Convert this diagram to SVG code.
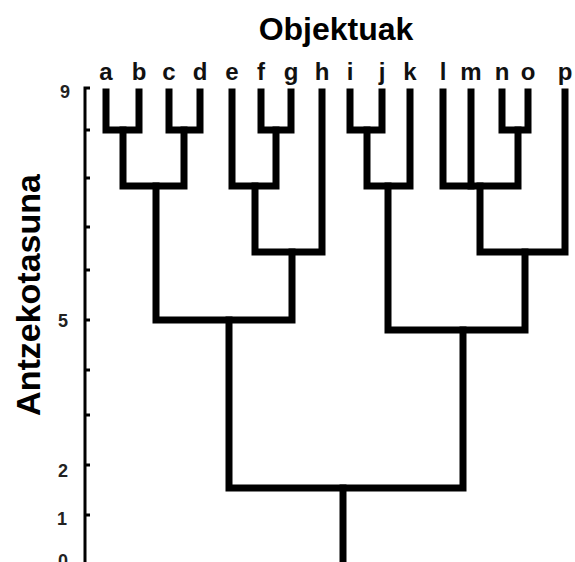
<svg xmlns="http://www.w3.org/2000/svg" width="575" height="562" viewBox="0 0 575 562">
  <style>
    .title { font-family: "Liberation Sans", Arial, sans-serif; font-weight: bold; fill: #000; }
    .leaf { font-family: "Liberation Sans", Arial, sans-serif; font-weight: bold; font-size: 24px; fill: #111; text-anchor: middle; }
    .tick-label { font-family: "Liberation Sans", Arial, sans-serif; font-weight: bold; font-size: 18px; fill: #222; text-anchor: end; }
    .branch { fill: none; stroke: #000; stroke-width: 7; stroke-linejoin: miter; stroke-linecap: square; }
    .axis { fill: none; stroke: #000; stroke-width: 3; }
    .tick { stroke: #000; stroke-width: 3; }
  </style>
  <rect width="575" height="562" fill="#fff"/>

  <!-- titles -->
  <text class="title" x="336" y="40" font-size="32" text-anchor="middle">Objektuak</text>
  <text class="title" transform="translate(40,295) rotate(-90)" font-size="34" text-anchor="middle">Antzekotasuna</text>

  <!-- similarity axis -->
  <g id="axis">
    <path class="axis" d="M90,88 H85 V562"/>
    <g class="tick">
      <line x1="85" y1="130" x2="90" y2="130"/>
      <line x1="85" y1="178" x2="90" y2="178"/>
      <line x1="85" y1="227" x2="90" y2="227"/>
      <line x1="85" y1="270" x2="90" y2="270"/>
      <line x1="85" y1="320" x2="90" y2="320"/>
      <line x1="85" y1="370" x2="90" y2="370"/>
      <line x1="85" y1="415" x2="90" y2="415"/>
      <line x1="85" y1="465" x2="90" y2="465"/>
      <line x1="85" y1="515" x2="90" y2="515"/>
    </g>
    <text class="tick-label" x="70" y="98">9</text>
    <text class="tick-label" x="68" y="327">5</text>
    <text class="tick-label" x="68" y="477">2</text>
    <text class="tick-label" x="67" y="525">1</text>
    <text class="tick-label" x="68" y="567">0</text>
  </g>

  <!-- leaf labels -->
  <g id="leaves">
    <text class="leaf" x="106" y="80">a</text>
    <text class="leaf" x="139" y="80">b</text>
    <text class="leaf" x="169" y="80">c</text>
    <text class="leaf" x="200" y="80">d</text>
    <text class="leaf" x="232" y="80">e</text>
    <text class="leaf" x="261" y="80">f</text>
    <text class="leaf" x="291" y="80">g</text>
    <text class="leaf" x="322" y="80">h</text>
    <text class="leaf" x="350" y="80">i</text>
    <text class="leaf" x="382" y="80">j</text>
    <text class="leaf" x="410" y="80">k</text>
    <text class="leaf" x="443" y="80">l</text>
    <text class="leaf" x="471" y="80">m</text>
    <text class="leaf" x="502" y="80">n</text>
    <text class="leaf" x="528" y="80">o</text>
    <text class="leaf" x="565" y="80">p</text>
  </g>

  <!-- dendrogram branches -->
  <g id="connectors" class="branch">
    <!-- first level pairs -->
    <path d="M106,92 V130 H139 V92"/>
    <path d="M169,92 V130 H200 V92"/>
    <path d="M261,92 V130 H291 V92"/>
    <path d="M350,92 V130 H382 V92"/>
    <path d="M502,92 V130 H528 V92"/>
    <!-- second level -->
    <path d="M123,130 V186 H184 V130"/>
    <path d="M232,92 V186 H276 V130"/>
    <path d="M367,130 V186 H410 V92"/>
    <path d="M443,92 V186 H518 V130"/>
    <path d="M471,92 V186"/>
    <!-- third level -->
    <path d="M255,186 V252 H322 V92"/>
    <path d="M480,186 V252 H565 V92"/>
    <!-- fourth level -->
    <path d="M156,186 V320 H292 V252"/>
    <path d="M388,186 V330 H525 V252"/>
    <!-- root -->
    <path d="M229,320 V488 H463 V330"/>
    <path d="M343,488 V566"/>
  </g>
</svg>
